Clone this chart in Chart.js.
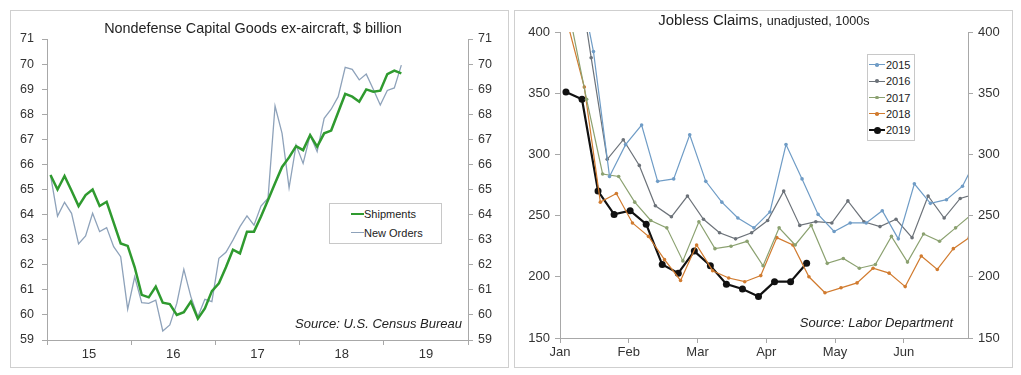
<!DOCTYPE html>
<html>
<head>
<meta charset="utf-8">
<script src="https://cdn.jsdelivr.net/npm/chart.js@4.4.1/dist/chart.umd.min.js"></script>
<style>
body { margin: 0; background: #fff; font-family: "Liberation Sans", Arial, sans-serif; color: #222; }
.panel { position: absolute; top: 10px; width: 497px; height: 356px; border: 1px solid #cfcfcf; }
.panel canvas { position: absolute; left: 0; top: 0; }
.title { position: absolute; white-space: nowrap; font-size: 14.4px; line-height: 16px; transform: translateX(-50%); }
.title small { font-size: 12.6px; }
.source { position: absolute; font-style: italic; font-size: 13px; line-height: 15px; white-space: nowrap; }
.legend { position: absolute; border: 1px solid #c8c8c8; background: #fff; font-size: 11px; }
.legend .row { position: absolute; left: 0; height: 14px; line-height: 14px; white-space: nowrap; }
.legend .line { position: absolute; top: 7px; height: 0; }
.legend .dot { position: absolute; border-radius: 50%; }
.legend .txt { position: absolute; top: 0; }
</style>
</head>
<body>

<div class="panel" id="leftPanel" style="left:10px">
  <canvas id="capgoods" width="497" height="356"></canvas>
  <div class="title" style="left:242px; top:9px">Nondefense Capital Goods ex-aircraft, $ billion</div>
  <div class="source" style="right:46px; top:305px">Source: U.S. Census Bureau</div>
  <div class="legend" id="leftLegend" style="left:318px; top:192px; width:111px; height:39px"></div>
</div>

<div class="panel" id="rightPanel" style="left:514px">
  <canvas id="claims" width="497" height="356"></canvas>
  <div class="title" style="left:249px; top:1px; font-size:14.9px">Jobless Claims, <small>unadjusted, 1000s</small></div>
  <div class="source" style="right:59px; top:304px">Source: Labor Department</div>
  <div class="legend" id="rightLegend" style="left:352px; top:43px; width:46px; height:85px"></div>
</div>

<script>
// ---- capital goods, monthly, Jan 2015 .. Mar 2019
const yearLabels = ["15", "16", "17", "18", "19"];
const shipments = [65.58, 65.0, 65.54, 64.95, 64.34, 64.78, 65.0, 64.34, 64.51, 63.68,
  62.85, 62.75, 61.9, 60.8, 60.7, 61.13, 60.49, 60.43, 60.0, 60.11,
  60.53, 59.85, 60.26, 60.95, 61.26, 61.9, 62.6, 62.45, 63.32, 63.32,
  63.92, 64.58, 65.25, 65.9, 66.28, 66.73, 66.57, 67.17, 66.71, 67.24,
  67.35, 68.08, 68.81, 68.7, 68.5, 68.99, 68.9, 68.94, 69.6, 69.74, 69.63];
const newOrders = [65.58, 63.94, 64.49, 64.05, 62.83, 63.15, 64.05, 63.32, 63.48, 62.72,
  62.32, 60.23, 61.52, 60.49, 60.46, 60.59, 59.36, 59.6, 60.46, 61.82,
  60.73, 59.93, 60.62, 60.53, 62.26, 62.5, 62.98, 63.52, 63.95, 63.58,
  64.34, 64.65, 68.33, 67.24, 65.07, 66.77, 66.04, 67.17, 66.51, 67.84,
  68.2, 68.7, 69.87, 69.79, 69.37, 69.6, 69.0, 68.37, 68.95, 69.05, 69.96];

// ---- jobless claims, weekly, thousands
const months = ["Jan", "Feb", "Mar", "Apr", "May", "Jun"];
const monthDays = [0, 30, 60, 90, 120, 150];
const claimYears = ["2015", "2016", "2017", "2018", "2019"];
const weekStart = [7.6, 6.6, 4.6, 3.6, 2.6];   // day of the first week shown
const claims2015 = [450, 384, 282, 308, 324, 278, 280, 316, 278, 261, 248, 240, 253,
  308, 280, 251, 237, 244, 244, 254, 231, 276, 260, 263, 274, 300];
const claims2016 = [465, 379, 296, 312, 291, 258, 249, 266, 247, 236, 231, 236, 246,
  270, 242, 245, 244, 262, 245, 241, 247, 232, 266, 248, 264, 268];
const claims2017 = [410, 345, 284, 282, 261, 246, 240, 213, 245, 223, 225, 229, 209,
  240, 226, 242, 211, 215, 207, 210, 233, 212, 235, 229, 240, 251];
const claims2018 = [405, 355, 261, 268, 244, 233, 214, 197, 226, 205, 199, 196, 201,
  232, 226, 200, 187, 191, 195, 207, 203, 192, 217, 206, 223, 232];
const claims2019 = [351, 345, 270, 251, 254, 243, 210, 203, 221, 209, 194, 190, 184,
  196, 196, 211];

const axisColor = "#a8a8a8";
const textColor = "#333";

function sideAxis(pos, min, max, step, width, size, pad) {
  return {
    type: "linear", position: pos, min: min, max: max,
    afterFit: s => { s.width = width; },
    border: { color: axisColor },
    grid: { drawOnChartArea: false, tickLength: 5, color: axisColor },
    ticks: { stepSize: step, padding: pad, color: textColor, font: { family: "Liberation Sans", size: size } }
  };
}

// left chart
new Chart(document.getElementById("capgoods"), {
  type: "line",
  data: {
    datasets: [
      { label: "Shipments", data: shipments.map((v, i) => ({ x: i + 0.5, y: v })),
        borderColor: "#2f9a2f", borderWidth: 2.5, pointRadius: 0, tension: 0 },
      { label: "New Orders", data: newOrders.map((v, i) => ({ x: i + 0.5, y: v })),
        borderColor: "#8ea2ba", borderWidth: 1.3, pointRadius: 0, tension: 0 }
    ]
  },
  options: {
    responsive: false, animation: false, devicePixelRatio: 1,
    layout: { padding: { top: 28 } },
    plugins: { legend: { display: false }, tooltip: { enabled: false } },
    scales: {
      x: {
        type: "linear", min: 0, max: 60,
        afterFit: s => { s.height = 27; },
        border: { color: axisColor },
        grid: { drawOnChartArea: false, tickLength: 5,
          color: c => (c.tick && c.tick.value % 12 === 0) ? axisColor : "rgba(0,0,0,0)" },
        ticks: { stepSize: 6, autoSkip: false, maxRotation: 0, color: textColor, padding: 2,
          font: { family: "Liberation Sans", size: 13 },
          callback: v => v % 12 === 6 ? yearLabels[(v - 6) / 12] : "" }
      },
      y: sideAxis("left", 59, 71, 1, 36, 12.5, 8),
      y2: sideAxis("right", 59, 71, 1, 40, 12.5, 5)
    }
  }
});

// right chart
const claimSeries = [claims2015, claims2016, claims2017, claims2018, claims2019];
const claimColors = ["#6f9cc6", "#6c7279", "#8ba170", "#d17b2f", "#111111"];
const claimWidths = [1.2, 1.2, 1.2, 1.2, 2.2];
const claimDots = [1.8, 1.8, 1.8, 1.8, 3.5];

new Chart(document.getElementById("claims"), {
  type: "line",
  data: {
    datasets: claimSeries.map((vals, s) => ({
      label: claimYears[s],
      data: vals.map((v, k) => ({ x: weekStart[s] + 7 * k, y: v })),
      borderColor: claimColors[s], backgroundColor: claimColors[s],
      borderWidth: claimWidths[s], pointRadius: claimDots[s], pointBorderWidth: 0,
      tension: 0
    }))
  },
  options: {
    responsive: false, animation: false, devicePixelRatio: 1,
    layout: { padding: { top: 21 } },
    plugins: { legend: { display: false }, tooltip: { enabled: false } },
    scales: {
      x: {
        type: "linear", min: 0, max: 178,
        afterFit: s => { s.height = 29; },
        afterBuildTicks: s => { s.ticks = monthDays.map(d => ({ value: d })); },
        border: { color: axisColor },
        grid: { drawOnChartArea: false, tickLength: 5, color: axisColor },
        ticks: { autoSkip: false, maxRotation: 0, color: textColor, padding: 2,
          font: { family: "Liberation Sans", size: 13 },
          callback: (v, i) => months[i] }
      },
      y: sideAxis("left", 150, 400, 50, 45, 13, 5),
      y2: sideAxis("right", 150, 400, 50, 44, 13, 5)
    }
  }
});

// html legends
function addRow(box, top, text, color, lineW, lineL, lineR, dot, textLeft) {
  const row = document.createElement("div");
  row.className = "row";
  row.style.top = top + "px";
  row.style.width = "100%";
  const ln = document.createElement("span");
  ln.className = "line";
  ln.style.left = lineL + "px";
  ln.style.width = (lineR - lineL) + "px";
  ln.style.borderTop = lineW + "px solid " + color;
  ln.style.top = (7 - lineW / 2) + "px";
  row.appendChild(ln);
  if (dot > 0) {
    const d = document.createElement("span");
    d.className = "dot";
    d.style.width = d.style.height = (dot * 2) + "px";
    d.style.left = ((lineL + lineR) / 2 - dot) + "px";
    d.style.top = (7 - dot) + "px";
    d.style.background = color;
    row.appendChild(d);
  }
  const t = document.createElement("span");
  t.className = "txt";
  t.style.left = textLeft + "px";
  t.textContent = text;
  row.appendChild(t);
  box.appendChild(row);
}

const leftBox = document.getElementById("leftLegend");
addRow(leftBox, 3, "Shipments", "#2f9a2f", 2.5, 21, 34, 0, 34);
addRow(leftBox, 22, "New Orders", "#8ea2ba", 1.3, 21, 34, 0, 34);

const rightBox = document.getElementById("rightLegend");
claimYears.forEach((y, s) => {
  addRow(rightBox, 3 + s * 16.3, y, claimColors[s], claimWidths[s], 1, 17, claimDots[s], 18);
});
</script>
</body>
</html>
